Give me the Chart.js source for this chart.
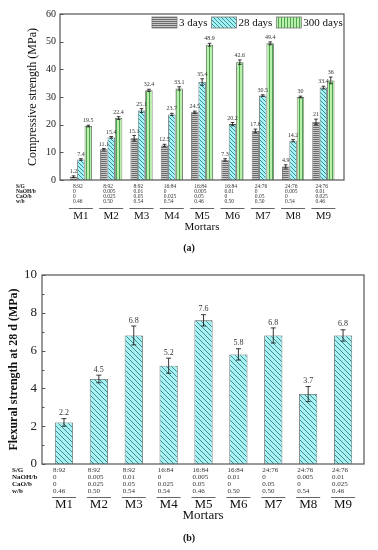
<!DOCTYPE html>
<html lang="en">
<head>
<meta charset="UTF-8">
<title>Mortar strength</title>
<script src="https://cdn.jsdelivr.net/npm/chart.js"></script>
<style>
    body { margin: 0; background: #fff; }
    canvas { display: block; }
</style>
</head>
<body>
<canvas id="compChart" width="378" height="255"></canvas>
<canvas id="flexChart" width="378" height="295"></canvas>
<script>
    // Data
    const mortars = ['M1', 'M2', 'M3', 'M4', 'M5', 'M6', 'M7', 'M8', 'M9'];
    const sgRatio = ['8:92', '8:92', '8:92', '16:84', '16:84', '16:84', '24:76', '24:76', '24:76'];
    const naohRatio = ['0', '0.005', '0.01', '0', '0.005', '0.01', '0', '0.005', '0.01'];
    const caoRatio = ['0', '0.025', '0.05', '0.025', '0.05', '0', '0.05', '0', '0.025'];
    const wbRatio = ['0.46', '0.50', '0.54', '0.54', '0.46', '0.50', '0.50', '0.54', '0.46'];

    const comp3d = [1.2, 11.1, 15.1, 12.5, 24.5, 7.3, 17.8, 4.9, 21];
    const comp28d = [7.4, 15.4, 25.1, 23.7, 35.4, 20.2, 30.5, 14.2, 33.4];
    const comp300d = [19.5, 22.4, 32.4, 33.1, 48.9, 42.6, 49.4, 30, 36];
    const err3d = [0.3, 0.3, 1.0, 0.4, 0.4, 0.4, 0.6, 0.6, 1.0];
    const err28d = [0.3, 0.3, 0.7, 0.4, 1.2, 0.6, 0.3, 0.4, 0.5];
    const err300d = [0.3, 0.5, 0.4, 0.6, 0.5, 0.8, 0.5, 0.3, 1.2];

    const flex28d = [2.2, 4.5, 6.8, 5.2, 7.6, 5.8, 6.8, 3.7, 6.8];
    const errFlex = [0.2, 0.2, 0.5, 0.4, 0.3, 0.3, 0.4, 0.4, 0.3];

    const serif = '"Liberation Serif", "Times New Roman", serif';

    function hatch(ctx, bg, line, kind, step) {
        const c = document.createElement('canvas');
        c.width = step; c.height = step;
        const g = c.getContext('2d');
        g.fillStyle = bg;
        g.fillRect(0, 0, step, step);
        g.strokeStyle = line;
        g.lineWidth = 1;
        g.beginPath();
        if (kind === 'h') {
            g.moveTo(0, step - 0.5); g.lineTo(step, step - 0.5);
        } else if (kind === 'v') {
            g.moveTo(step - 0.5, 0); g.lineTo(step - 0.5, step);
        } else {
            g.moveTo(0, 0); g.lineTo(step, step);
            g.moveTo(-1, step - 1); g.lineTo(1, step + 1);
            g.moveTo(step - 1, -1); g.lineTo(step + 1, 1);
        }
        g.stroke();
        return ctx.createPattern(c, 'repeat');
    }

    const toPoints = arr => arr.map((v, i) => ({ x: i, y: v }));

    // draws frame, inner ticks, error bars, value labels, parameter table
    function panelPlugin(cfg) {
        return {
            id: 'panel',
            afterDatasetsDraw(chart) {
                const { ctx, chartArea: a, scales: { x, y } } = chart;
                ctx.save();

                // error bars + labels
                chart.data.datasets.forEach((ds, di) => {
                    const meta = chart.getDatasetMeta(di);
                    meta.data.forEach((bar, i) => {
                        const v = ds.data[i].y, e = ds.err[i];
                        const yt = y.getPixelForValue(v + e), yb = y.getPixelForValue(v - e);
                        ctx.strokeStyle = '#222';
                        ctx.lineWidth = 0.9;
                        ctx.beginPath();
                        ctx.moveTo(bar.x, yt); ctx.lineTo(bar.x, yb);
                        ctx.moveTo(bar.x - cfg.cap, yt); ctx.lineTo(bar.x + cfg.cap, yt);
                        ctx.moveTo(bar.x - cfg.cap, yb); ctx.lineTo(bar.x + cfg.cap, yb);
                        ctx.stroke();
                        ctx.fillStyle = '#333';
                        ctx.font = cfg.valueFont;
                        ctx.textAlign = 'center';
                        ctx.textBaseline = 'bottom';
                        ctx.fillText(String(v), bar.x, yt - 1.5);
                    });
                });

                // frame
                ctx.strokeStyle = '#555';
                ctx.lineWidth = 1.2;
                ctx.strokeRect(a.left, a.top, a.right - a.left, a.bottom - a.top);

                // inward ticks
                ctx.lineWidth = 1;
                ctx.beginPath();
                y.ticks.forEach(t => {
                    const py = Math.round(y.getPixelForValue(t.value)) + 0.5;
                    ctx.moveTo(a.left, py); ctx.lineTo(a.left + 3.5, py);
                });
                if (cfg.minorStep) {
                    for (let v = cfg.minorStep; v < y.max; v += cfg.minorStep * 2) {
                        const py = Math.round(y.getPixelForValue(v)) + 0.5;
                        ctx.moveTo(a.left, py); ctx.lineTo(a.left + 2.5, py);
                    }
                }
                ctx.stroke();

                // parameter table
                const rows = [['S/G', sgRatio], ['NaOH/b', naohRatio], ['CaO/b', caoRatio], ['w/b', wbRatio]];
                ctx.textBaseline = 'middle';
                rows.forEach((r, ri) => {
                    const ry = cfg.tableTop + ri * cfg.rowGap;
                    ctx.fillStyle = '#111';
                    ctx.textAlign = 'left';
                    ctx.font = 'bold ' + cfg.tableFont;
                    ctx.fillText(r[0], cfg.labelX, ry);
                    ctx.fillStyle = '#333';
                    ctx.font = cfg.tableFont;
                    r[1].forEach((txt, i) => {
                        ctx.fillText(txt, x.getPixelForValue(i) + cfg.colOffset, ry);
                    });
                });

                // separators and mortar names
                ctx.strokeStyle = '#666';
                ctx.lineWidth = 1;
                ctx.fillStyle = '#111';
                ctx.textAlign = 'center';
                ctx.font = cfg.nameFont;
                mortars.forEach((m, i) => {
                    const px = x.getPixelForValue(i);
                    ctx.beginPath();
                    ctx.moveTo(px - 12, cfg.lineY + 0.5);
                    ctx.lineTo(px + 12, cfg.lineY + 0.5);
                    ctx.stroke();
                    ctx.fillText(m, px, cfg.nameY);
                });
                ctx.fillText('Mortars', (a.left + a.right) / 2, cfg.titleY);
                ctx.font = 'bold 10px ' + serif;
                ctx.fillText(cfg.tag, 189, cfg.tagY);

                // legend
                if (cfg.legend) {
                    let lx = cfg.legend.x;
                    ctx.font = '11px ' + serif;
                    ctx.textAlign = 'left';
                    chart.data.datasets.forEach(ds => {
                        ctx.fillStyle = ds.backgroundColor;
                        ctx.fillRect(lx, cfg.legend.y, 25, 11);
                        ctx.strokeStyle = '#777';
                        ctx.lineWidth = 0.8;
                        ctx.strokeRect(lx, cfg.legend.y, 25, 11);
                        lx += 27;
                        ctx.fillStyle = '#111';
                        ctx.fillText(ds.label, lx, cfg.legend.y + 6);
                        lx += ctx.measureText(ds.label).width + 4;
                    });
                }
                ctx.restore();
            }
        };
    }

    // (a) compressive strength
    const compCtx = document.getElementById('compChart').getContext('2d');
    const grayFill = hatch(compCtx, '#c8c8c8', '#6a6a6a', 'h', 2);
    const cyanFill = hatch(compCtx, '#a4f4f4', '#3d8c9c', 'd', 4);
    const greenFill = hatch(compCtx, '#b8f0ac', '#4fa24f', 'v', 3);

    new Chart(compCtx, {
        type: 'bar',
        data: {
            datasets: [
                { label: '3 days', data: toPoints(comp3d), err: err3d, backgroundColor: grayFill, borderColor: '#555', borderWidth: 0.8 },
                { label: '28 days', data: toPoints(comp28d), err: err28d, backgroundColor: cyanFill, borderColor: '#555', borderWidth: 0.8 },
                { label: '300 days', data: toPoints(comp300d), err: err300d, backgroundColor: greenFill, borderColor: '#555', borderWidth: 0.8 }
            ]
        },
        options: {
            responsive: false,
            animation: false,
            layout: { padding: { top: 14, right: 34, left: 0, bottom: 0 } },
            datasets: { bar: { categoryPercentage: 0.73, barPercentage: 1 } },
            scales: {
                x: {
                    type: 'linear', min: -0.69, max: 8.68, offset: false,
                    ticks: { display: false, stepSize: 1, includeBounds: false },
                    grid: { display: false, drawTicks: false },
                    border: { display: false },
                    afterFit: s => { s.height = 75; }
                },
                y: {
                    min: 0, max: 60,
                    ticks: { stepSize: 5, padding: 4, color: '#222', font: { family: serif, size: 10 } },
                    grid: { display: false, drawTicks: false },
                    border: { display: false },
                    title: { display: true, text: 'Compressive strength (MPa)', color: '#111', font: { family: serif, size: 12 }, padding: { top: 26, bottom: 0 } },
                    afterFit: s => { s.width = 60; }
                }
            },
            plugins: { legend: { display: false }, tooltip: { enabled: false } }
        },
        plugins: [panelPlugin({
            cap: 1.8, valueFont: '6px ' + serif,
            tableTop: 187, rowGap: 5, tableFont: '5.5px ' + serif, labelX: 16, colOffset: -8,
            lineY: 208, nameY: 216, nameFont: '11px ' + serif, titleY: 227,
            tag: '(a)', tagY: 248,
            legend: { x: 152, y: 17 }
        })]
    });

    // (b) flexural strength
    const flexCtx = document.getElementById('flexChart').getContext('2d');
    const flexFill = hatch(flexCtx, '#a8f2f2', '#3f8a9a', 'd', 5);

    new Chart(flexCtx, {
        type: 'bar',
        data: {
            datasets: [
                { label: '28 d', data: toPoints(flex28d), err: errFlex, backgroundColor: flexFill, borderColor: '#555', borderWidth: 0.8 }
            ]
        },
        options: {
            responsive: false,
            animation: false,
            layout: { padding: { top: 20, right: 14, left: 0, bottom: 0 } },
            datasets: { bar: { categoryPercentage: 0.52, barPercentage: 1 } },
            scales: {
                x: {
                    type: 'linear', min: -0.63, max: 8.6, offset: false,
                    ticks: { display: false, stepSize: 1, includeBounds: false },
                    grid: { display: false, drawTicks: false },
                    border: { display: false },
                    afterFit: s => { s.height = 86; }
                },
                y: {
                    min: 0, max: 10,
                    ticks: { stepSize: 2, padding: 5, color: '#222', font: { family: serif, size: 13 } },
                    grid: { display: false, drawTicks: false },
                    border: { display: false },
                    title: { display: true, text: 'Flexural strength at 28 d (MPa)', color: '#111', font: { family: serif, size: 12, weight: 'bold' }, padding: { top: 7, bottom: 0 } },
                    afterFit: s => { s.width = 42; }
                }
            },
            plugins: { legend: { display: false }, tooltip: { enabled: false } }
        },
        plugins: [panelPlugin({
            cap: 2.5, valueFont: '8px ' + serif, minorStep: 1,
            tableTop: 215, rowGap: 7, tableFont: '7px ' + serif, labelX: 12, colOffset: -11,
            lineY: 242, nameY: 250, nameFont: '13px ' + serif, titleY: 261,
            tag: '(b)', tagY: 283
        })]
    });
</script>
</body>
</html>
